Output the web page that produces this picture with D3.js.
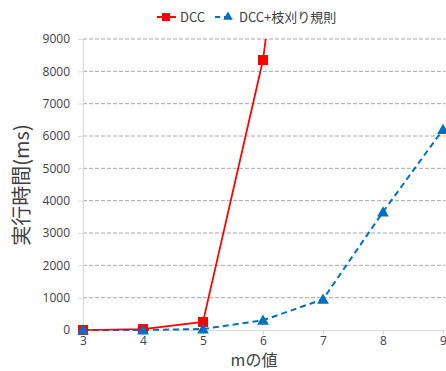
<!DOCTYPE html>
<html lang="ja">
<head>
<meta charset="utf-8">
<title>実行時間</title>
<script src="https://d3js.org/d3.v7.min.js"></script>
<style>
  body { margin: 0; background: #fff; }
  svg { display: block; font-family: "Noto Sans CJK JP", "Open Sans", sans-serif; }
  .tick text { font-size: 12px; fill: #404040; font-family: "Open Sans", "Noto Sans CJK JP", sans-serif; }
  .grid line { stroke: #a6a6a6; stroke-dasharray: 4 2; }
</style>
</head>
<body>
<svg id="chart" width="446" height="371"></svg>
<script>
  // m values
  const mValues = [3, 4, 5, 6, 7, 8, 9];
  // DCC (goes off the top after m=6)
  const dccTimes = [0, 30, 250, 8350, 22700];
  // DCC + pruning rules
  const prunedTimes = [0, 0, 30, 300, 950, 3650, 6200];
  const yTicks = [0, 1000, 2000, 3000, 4000, 5000, 6000, 7000, 8000, 9000];

  const svg = d3.select('#chart');
  const margin = { left: 83, right: 3, top: 39, bottom: 41 };
  const width = 446 - margin.left - margin.right;
  const height = 371 - margin.top - margin.bottom;

  const x = d3.scaleLinear().domain([3, 9]).range([0, width]);
  const y = d3.scaleLinear().domain([0, 9000]).range([height, 0]);

  const g = svg.append('g').attr('transform', `translate(${margin.left},${margin.top})`);

  // dashed horizontal grid
  g.append('g').attr('class', 'grid')
    .selectAll('line')
    .data(yTicks.filter(d => d > 0))
    .join('line')
    .attr('x1', 0).attr('x2', width + 2)
    .attr('y1', d => y(d)).attr('y2', d => y(d));

  const yAxis = g.append('g')
    .call(d3.axisLeft(y).tickValues(yTicks).tickSize(5).tickPadding(8).tickFormat(d3.format('d')));
  yAxis.select('.domain').attr('stroke', '#d9d9d9');
  yAxis.selectAll('.tick line').attr('stroke', '#d9d9d9');

  const xAxis = g.append('g')
    .attr('transform', `translate(0,${height})`)
    .call(d3.axisBottom(x).tickValues(mValues).tickSize(5).tickPadding(1).tickFormat(d3.format('d')));
  xAxis.select('.domain').attr('stroke', '#d9d9d9');
  xAxis.selectAll('.tick line').attr('stroke', '#d9d9d9');

  svg.append('clipPath').attr('id', 'plot-clip')
    .append('rect').attr('x', -5).attr('y', 0).attr('width', width + 10).attr('height', height + 10);

  const plot = g.append('g').attr('clip-path', 'url(#plot-clip)');
  const line = d3.line().x(d => x(d[0])).y(d => y(d[1]));

  const dccData = dccTimes.map((v, i) => [mValues[i], v]);
  const prunedData = prunedTimes.map((v, i) => [mValues[i], v]);

  plot.append('path').datum(prunedData)
    .attr('d', line).attr('fill', 'none')
    .attr('stroke', '#0070c0').attr('stroke-width', 2).attr('stroke-dasharray', '6 4');

  plot.append('path').datum(dccData)
    .attr('d', line).attr('fill', 'none')
    .attr('stroke', '#ff0000').attr('stroke-width', 1.75);

  const tri = d3.symbol().type(d3.symbolTriangle).size(60);

  plot.selectAll('.sq').data(dccData.filter(d => d[1] <= 9000))
    .join('rect').attr('class', 'sq')
    .attr('x', d => x(d[0]) - 5).attr('y', d => y(d[1]) - 5)
    .attr('width', 10).attr('height', 10).attr('fill', '#ff0000');

  plot.selectAll('.tri').data(prunedData)
    .join('path').attr('class', 'tri')
    .attr('transform', d => `translate(${x(d[0])},${y(d[1]) + 1})`)
    .attr('d', tri).attr('fill', '#0070c0');

  // legend
  const lg = svg.append('g').attr('transform', 'translate(0,17)');
  lg.append('line').attr('x1', 157).attr('x2', 176).attr('y1', 0).attr('y2', 0)
    .attr('stroke', '#ff0000').attr('stroke-width', 2);
  lg.append('rect').attr('x', 162).attr('y', -4).attr('width', 8).attr('height', 8).attr('fill', '#ff0000');
  lg.append('text').attr('x', 180).attr('y', 5).attr('font-size', 13).attr('fill', '#404040').text('DCC');

  lg.append('line').attr('x1', 215).attr('x2', 233).attr('y1', 0).attr('y2', 0)
    .attr('stroke', '#0070c0').attr('stroke-width', 2).attr('stroke-dasharray', '5 4');
  lg.append('path').attr('transform', 'translate(228,0)')
    .attr('d', d3.symbol().type(d3.symbolTriangle).size(40)).attr('fill', '#0070c0');
  lg.append('text').attr('x', 239).attr('y', 5).attr('font-size', 13).attr('fill', '#404040').text('DCC+枝刈り規則');

  // axis titles
  svg.append('text')
    .attr('transform', `translate(29,${margin.top + 146}) rotate(-90)`)
    .attr('text-anchor', 'middle').attr('font-size', 20).attr('fill', '#404040')
    .text('実行時間(ms)');

  svg.append('text')
    .attr('x', 254).attr('y', 366)
    .attr('text-anchor', 'middle').attr('font-size', 16).attr('fill', '#404040')
    .text('mの値');
</script>
</body>
</html>
